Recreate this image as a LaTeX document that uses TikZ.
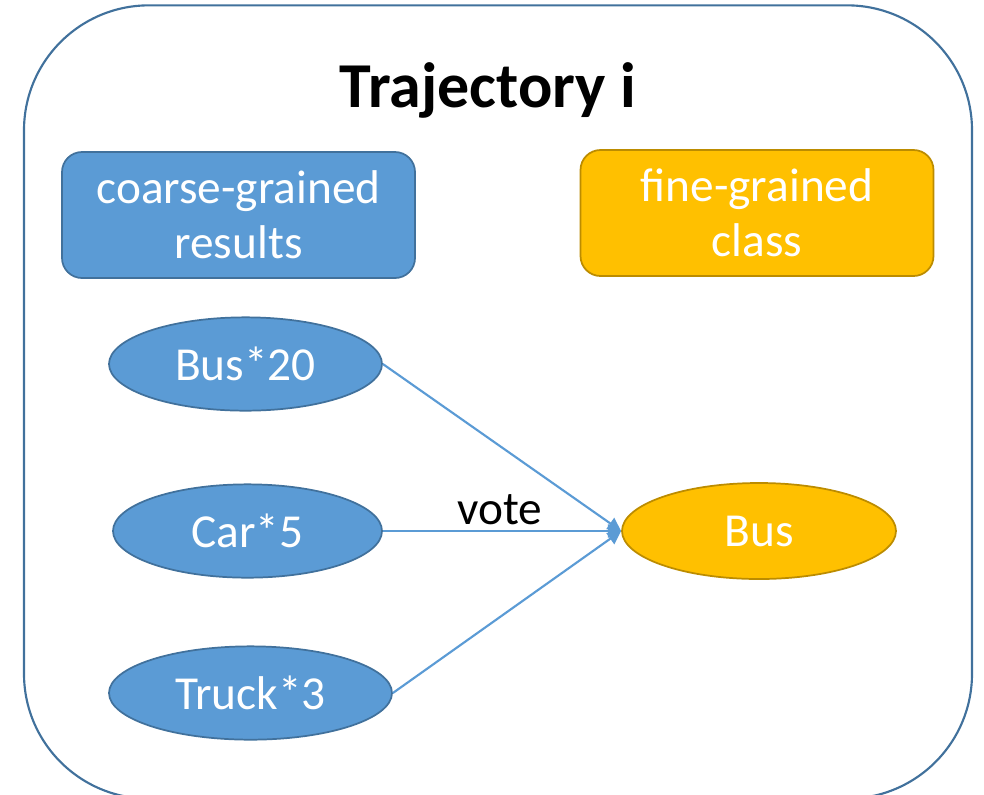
\documentclass[tikz,border=0pt]{standalone}
\usepackage{fontspec}
\setmainfont{Carlito}
\usetikzlibrary{shapes.geometric,arrows.meta}
\definecolor{blueFill}{HTML}{5B9BD5}
\definecolor{blueLine}{HTML}{41719C}
\definecolor{goldFill}{HTML}{FFC000}
\definecolor{goldLine}{HTML}{BC8C00}
\begin{document}
\begin{tikzpicture}[x=0.75pt,y=-0.75pt,
  txt/.style={font=\fontsize{35.5}{41.5}\selectfont},
  bluebox/.style={txt,draw=blueLine,fill=blueFill,text=white,line width=1.3pt,
    rounded corners=15pt,minimum width=264.75pt,minimum height=94.5pt,align=center,inner sep=0pt},
  goldbox/.style={bluebox,draw=goldLine,fill=goldFill},
  blueell/.style={txt,ellipse,draw=blueLine,fill=blueFill,text=white,line width=1.3pt,
    minimum width=205pt,minimum height=70pt,inner sep=0pt},
  goldell/.style={blueell,draw=goldLine,fill=goldFill},
  vote/.style={draw=blueFill,line width=1.6pt,-{Triangle[length=10pt,width=10pt]}}]
\useasboundingbox (0,0) rectangle (984,794);
% outer frame, its lower edge falls just below the page
\node[draw=blueLine,line width=1.6pt,rounded corners=93.75pt,
  minimum width=711pt,minimum height=595pt] (frame) at (498,402) {};
\node[font=\fontsize{48}{57}\selectfont\bfseries] (title) at (488,90) {Trajectory i};
% header boxes
\node[bluebox] (coarse) at (238.5,215) {coarse-grained\\results};
\node[goldbox] (fine) at (757,213) {fine-grained\\class};
% coarse-grained counts
\node[blueell,minimum width=204.75pt] (b20) at (245.5,364) {Bus*20};
\node[blueell,minimum width=201.75pt] (c5) at (247.5,531) {Car*5};
\node[blueell,minimum width=212.25pt] (t3) at (250.5,693) {Truck*3};
% fine-grained result
\node[goldell,minimum width=205.5pt,minimum height=72pt] (bus) at (759,531) {Bus};
% voting arrows
\draw[vote] (b20.east) -- (bus.west);
\draw[vote] (c5.east) -- node[txt,above,text=black,pos=0.49,inner sep=4pt] (votelbl) {vote} (bus.west);
\draw[vote] (t3.east) -- (bus.west);
\end{tikzpicture}
\end{document}
